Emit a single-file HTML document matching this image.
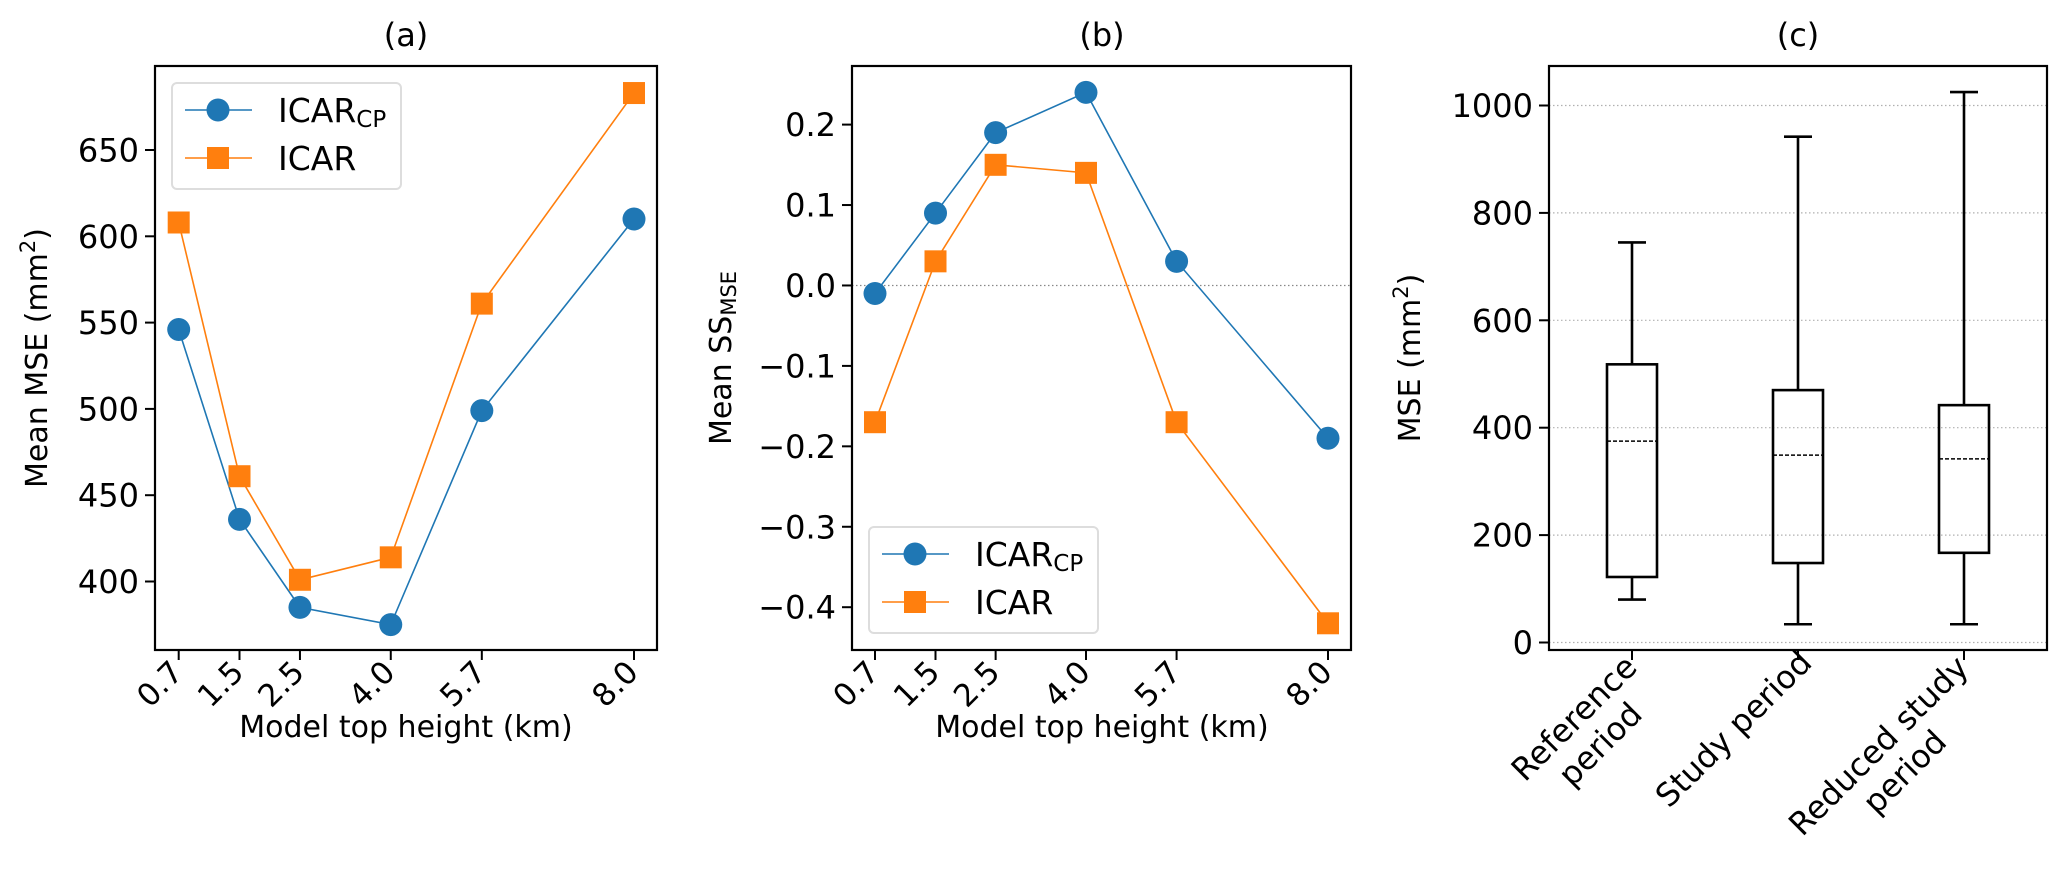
<!DOCTYPE html>
<html><head><meta charset="utf-8"><style>
html,body{margin:0;padding:0;background:#fff}
svg{display:block;font-family:"DejaVu Sans","Liberation Sans",sans-serif}
</style></head><body>
<svg id="fig" width="2067" height="874" viewBox="0 0 2067 874" xmlns="http://www.w3.org/2000/svg"></svg>
<script>
// Shared x data (panels a, b)
const xValues = [0.7, 1.675, 2.644, 4.1, 5.56, 8.0];
const xTickLabels = ["0.7", "1.5", "2.5", "4.0", "5.7", "8.0"];
// Panel a
const mseIcarCp = [546, 436, 385, 375, 499, 610];
const mseIcar = [608, 461, 401, 414, 561, 683];
const aYTicks = [400, 450, 500, 550, 600, 650];
// Panel b
const ssIcarCp = [-0.01, 0.09, 0.19, 0.24, 0.03, -0.19];
const ssIcar = [-0.17, 0.03, 0.15, 0.14, -0.17, -0.42];
const bYTicks = [-0.4, -0.3, -0.2, -0.1, 0.0, 0.1, 0.2];
const bYTickLabels = ["\u22120.4", "\u22120.3", "\u22120.2", "\u22120.1", "0.0", "0.1", "0.2"];
// Panel c
const periods = [["Reference", "period"], ["Study period"], ["Reduced study", "period"]];
const whiskerLow = [80, 34, 34];
const q1 = [122, 148, 167];
const medians = [375, 349, 342];
const q3 = [518, 470, 442];
const whiskerHigh = [745, 942, 1025];
const cYTicks = [0, 200, 400, 600, 800, 1000];

const NS = "http://www.w3.org/2000/svg";
const svg = document.getElementById("fig");
function el(tag, attrs, parent) {
  const e = document.createElementNS(NS, tag);
  for (const k in attrs) e.setAttribute(k, attrs[k]);
  (parent || svg).appendChild(e);
  return e;
}
const BLUE = "#1f77b4", ORANGE = "#ff7f0e";
const TOP = 66, BOT = 650;

function lin(d0, d1, r0, r1) { return v => r0 + (v - d0) / (d1 - d0) * (r1 - r0); }

function drawFrame(g, L, R) {
  const f = el("rect", {x: L, y: TOP, width: R - L, height: BOT - TOP, fill: "none", stroke: "#000", "stroke-width": 2.2}, g);
  
  
}
function yTicks(g, L, vals, labels, ys) {
  vals.forEach((v, i) => {
    const y = ys(v);
    const t = el("line", {x1: L - 10, x2: L, y1: y, y2: y, stroke: "#000", "stroke-width": 2}, g);
    
    
    const tx = el("text", {x: L - 16, y: y + 11.5, "text-anchor": "end", "font-size": 32}, g);
    tx.textContent = labels[i];
    
    
  });
}
function xTicks(g, xs) {
  xValues.forEach((v, i) => {
    const x = xs(v);
    const t = el("line", {x1: x, x2: x, y1: BOT, y2: BOT + 10, stroke: "#000", "stroke-width": 2}, g);
    
    
    const tx = el("text", {transform: `translate(${x + 6},${BOT + 24}) rotate(-45)`, "text-anchor": "end", "font-size": 31}, g);
    tx.textContent = xTickLabels[i];
    
    
  });
}
function series(g, xs, ys, vals, color, square, name) {
  const pts = vals.map((v, i) => [xs(xValues[i]), ys(v)]);
  const pl = el("polyline", {points: pts.map(p => p.join(",")).join(" "), fill: "none", stroke: color, "stroke-width": 1.6}, g);
  
  
  pts.forEach(p => {
    let m;
    if (square) m = el("rect", {x: p[0] - 11, y: p[1] - 11, width: 22, height: 22, fill: color}, g);
    else m = el("circle", {cx: p[0], cy: p[1], r: 11.5, fill: color}, g);
    
    
  });
}
function legend(g, lx, ly) {
  const box = el("rect", {x: lx, y: ly, width: 229, height: 106, rx: 5, fill: "#fff", "fill-opacity": 0.8, stroke: "#ddd", "stroke-width": 2}, g);
  
  
  const rows = [[ly + 27, BLUE, false, "ICAR", "CP"], [ly + 75, ORANGE, true, "ICAR", ""]];
  rows.forEach(r => {
    const ent = el("g", {}, g);
    
    
    el("line", {x1: lx + 13, x2: lx + 80, y1: r[0], y2: r[0], stroke: r[1], "stroke-width": 1.6}, ent);
    if (r[2]) el("rect", {x: lx + 35, y: r[0] - 11, width: 22, height: 22, fill: r[1]}, ent);
    else el("circle", {cx: lx + 46, cy: r[0], r: 11.5, fill: r[1]}, ent);
    const t = el("text", {x: lx + 106, y: r[0] + 12, "font-size": 33}, ent);
    t.textContent = r[3];
    if (r[4]) { const s = el("tspan", {"font-size": 23, dy: 5}, t); s.textContent = r[4]; }
  });
}
function title(txt, cx) {
  const t = el("text", {x: cx, y: 46, "text-anchor": "middle", "font-size": 32});
  t.textContent = txt;
  
  
}
function xTitle(cx) {
  const t = el("text", {x: cx, y: 737, "text-anchor": "middle", "font-size": 30});
  t.textContent = "Model top height (km)";
  
  
}

// ---- Panel a ----
{
  const L = 155, R = 657;
  const g = el("g", {});  
  const xs = lin(0.7, 8.0, 178.7, 634);
  const ys = lin(650, 400, 150, 581.5);
  drawFrame(g, L, R);
  yTicks(g, L, aYTicks, aYTicks.map(String), ys);
  xTicks(g, xs);
  series(g, xs, ys, mseIcarCp, BLUE, false, 'icar-cp');
  series(g, xs, ys, mseIcar, ORANGE, true, 'icar');
  legend(g, 172, 83);
  title("(a)", 406);
  xTitle(406);
  const yl = el("text", {transform: "translate(47,358) rotate(-90)", "text-anchor": "middle", "font-size": 30}, g);
  yl.innerHTML = 'Mean MSE (mm<tspan font-size="21" dy="-12">2</tspan><tspan dy="12">)</tspan>';
  
  
}
// ---- Panel b ----
{
  const L = 852, R = 1351;
  const g = el("g", {});  
  const xs = lin(0.7, 8.0, 875, 1328);
  const ys = lin(0.2, -0.4, 124.6, 607.2);
  const z = el("line", {x1: L, x2: R, y1: ys(0), y2: ys(0), stroke: "#888", "stroke-width": 1.2, "stroke-dasharray": "1.5,2.5"}, g);
  
  
  drawFrame(g, L, R);
  yTicks(g, L, bYTicks, bYTickLabels, ys);
  xTicks(g, xs);
  series(g, xs, ys, ssIcarCp, BLUE, false, 'icar-cp');
  series(g, xs, ys, ssIcar, ORANGE, true, 'icar');
  legend(g, 869, 527);
  title("(b)", 1102);
  xTitle(1102);
  const yl = el("text", {transform: "translate(731,358) rotate(-90)", "text-anchor": "middle", "font-size": 30}, g);
  yl.innerHTML = 'Mean SS<tspan font-size="21" dy="5">MSE</tspan>';
  
  
}
// ---- Panel c ----
{
  const L = 1549, R = 2047;
  const g = el("g", {});  
  const ys = lin(0, 1000, 642.5, 105.5);
  const xs = lin(0.5, 3.5, L, R);
  cYTicks.forEach(v => {
    const gl = el("line", {x1: L, x2: R, y1: ys(v), y2: ys(v), stroke: "#b0b0b0", "stroke-width": 1.2, "stroke-dasharray": "1.5,2.5"}, g);
    
    
  });
  drawFrame(g, L, R);
  yTicks(g, L, cYTicks, cYTicks.map(String), ys);
  periods.forEach((lines, i) => {
    const cx = xs(i + 1);
    const bw = 25, cw = 14;
    const bx = el("g", {}, g);
    
    
    const st = {stroke: "#000", "stroke-width": 2.6, fill: "none"};
    el("rect", Object.assign({x: cx - bw, y: ys(q3[i]), width: 2 * bw, height: ys(q1[i]) - ys(q3[i])}, st), bx);
    el("line", Object.assign({x1: cx, x2: cx, y1: ys(q3[i]), y2: ys(whiskerHigh[i])}, st), bx);
    el("line", Object.assign({x1: cx, x2: cx, y1: ys(q1[i]), y2: ys(whiskerLow[i])}, st), bx);
    el("line", Object.assign({x1: cx - cw, x2: cx + cw, y1: ys(whiskerHigh[i]), y2: ys(whiskerHigh[i])}, st), bx);
    el("line", Object.assign({x1: cx - cw, x2: cx + cw, y1: ys(whiskerLow[i]), y2: ys(whiskerLow[i])}, st), bx);
    el("line", {x1: cx - bw, x2: cx + bw, y1: ys(medians[i]), y2: ys(medians[i]), stroke: "#000", "stroke-width": 1.5, "stroke-dasharray": "4,2"}, bx);
    const t = el("line", {x1: cx, x2: cx, y1: BOT, y2: BOT + 10, stroke: "#000", "stroke-width": 2}, g);
    
    
    const n = lines.length;
    const ox = n > 1 ? cx + 38 : cx + 26;
    const oy = n > 1 ? BOT + 40 : BOT + 4;
    const tx = el("text", {transform: `translate(${ox},${oy}) rotate(-45)`, "text-anchor": "middle", "font-size": 32}, g);
    
    
    const maxLen = Math.max(...lines.map(s => s.length));
    const cu = -maxLen * 19.5 / 2;
    lines.forEach((ln, k) => {
      const s = el("tspan", {x: cu, y: -(n - 1 - k) * 37}, tx);
      s.textContent = ln;
    });
  });
  title("(c)", 1798);
  const yl = el("text", {transform: "translate(1420,358) rotate(-90)", "text-anchor": "middle", "font-size": 30}, g);
  yl.innerHTML = 'MSE (mm<tspan font-size="21" dy="-12">2</tspan><tspan dy="12">)</tspan>';
  
  
}
</script>
</body></html>
